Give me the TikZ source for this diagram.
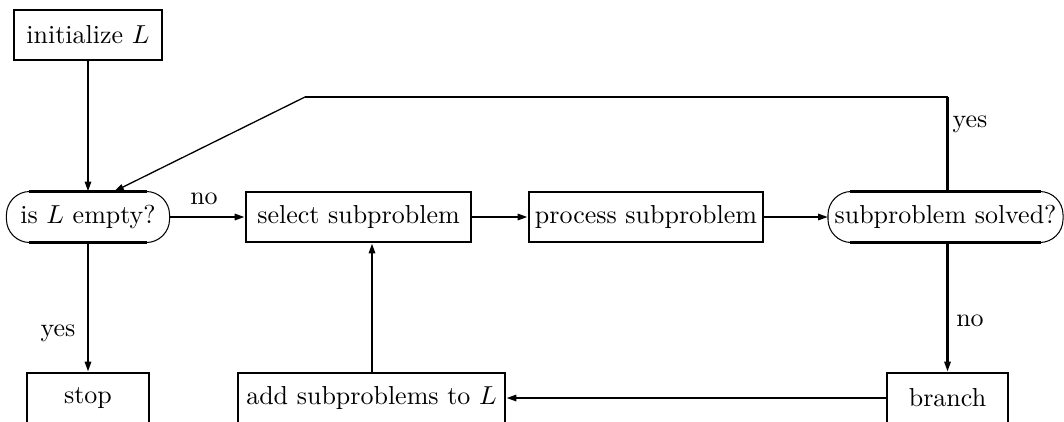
\documentclass[tikz,border=0pt]{standalone}
\usetikzlibrary{arrows.meta}
\usepackage{amsmath}

\tikzset{
    block/.style={draw,line width=1.1pt,minimum height=19.25pt,inner sep=0pt},
    decision/.style={minimum height=19.25pt,inner sep=0pt},
    link/.style={->,line width=0.8pt},
    tag/.style={inner sep=0pt}
}

\begin{document}
\begin{tikzpicture}[line cap=butt,line join=miter,>={Triangle[length=3.8pt,width=2.4pt]},x=0.385pt,y=-0.385pt]
    \useasboundingbox (0,0) rectangle (1064,421);
    \clip (0,0) rectangle (1064,421);
    % boxes
    \node[block,minimum width=57pt] (init) at (88,35) {initialize $L$};
    \node[decision,minimum width=62.4pt] (empty) at (88,217) {is $L$ empty?};
    \node[block,minimum width=86.6pt] (select) at (358.5,217) {select subproblem};
    \node[block,minimum width=90.1pt] (process) at (646,217) {process subproblem};
    \node[decision,minimum width=90.1pt] (solved) at (945.5,217) {subproblem solved?};
    \node[block,minimum width=47pt] (stop) at (88,398) {stop};
    \node[block,minimum width=102.8pt] (add) at (371.5,398) {add subproblems to $L$};
    \node[block,minimum width=46.6pt] (branch) at (947.5,398) {branch};
    % rounded tests
    \foreach \n in {empty,solved} {
        \draw[line width=0.4pt,rounded corners=9pt] (\n.north west) rectangle (\n.south east);
        \draw[line width=1.1pt] ([xshift=8.5pt]\n.north west) -- ([xshift=-8.5pt]\n.north east);
        \draw[line width=1.1pt] ([xshift=8.5pt]\n.south west) -- ([xshift=-8.5pt]\n.south east);
    }
    % connectors
    \draw[link] (init) -- (empty);
    \draw[link] (empty) -- (stop);
    \draw[link] (empty) -- (select);
    \draw[link] (select) -- (process);
    \draw[link] (process) -- (solved);
    \draw[link] (solved.south -| branch) -- (branch);
    \draw[link] (branch.west) -- (add.east);
    \draw[link] (add.north -| 372,0) -- (select.south -| 372,0);
    \coordinate (bend) at (305,97);
    \draw[line width=1.1pt] (solved.north -| branch) -- (branch |- bend);
    \draw[line width=0.8pt] (branch |- bend) -- (bend);
    \draw[->,line width=0.5pt] (bend) -- ([xshift=10pt]empty.north);
    % labels
    \node[tag] (lno) at (204,199) {no};
    \node[tag] (lyes) at (58,333) {yes};
    \node[tag] (ryes) at (970,124) {yes};
    \node[tag] (rno) at (970,321) {no};
\end{tikzpicture}
\end{document}
